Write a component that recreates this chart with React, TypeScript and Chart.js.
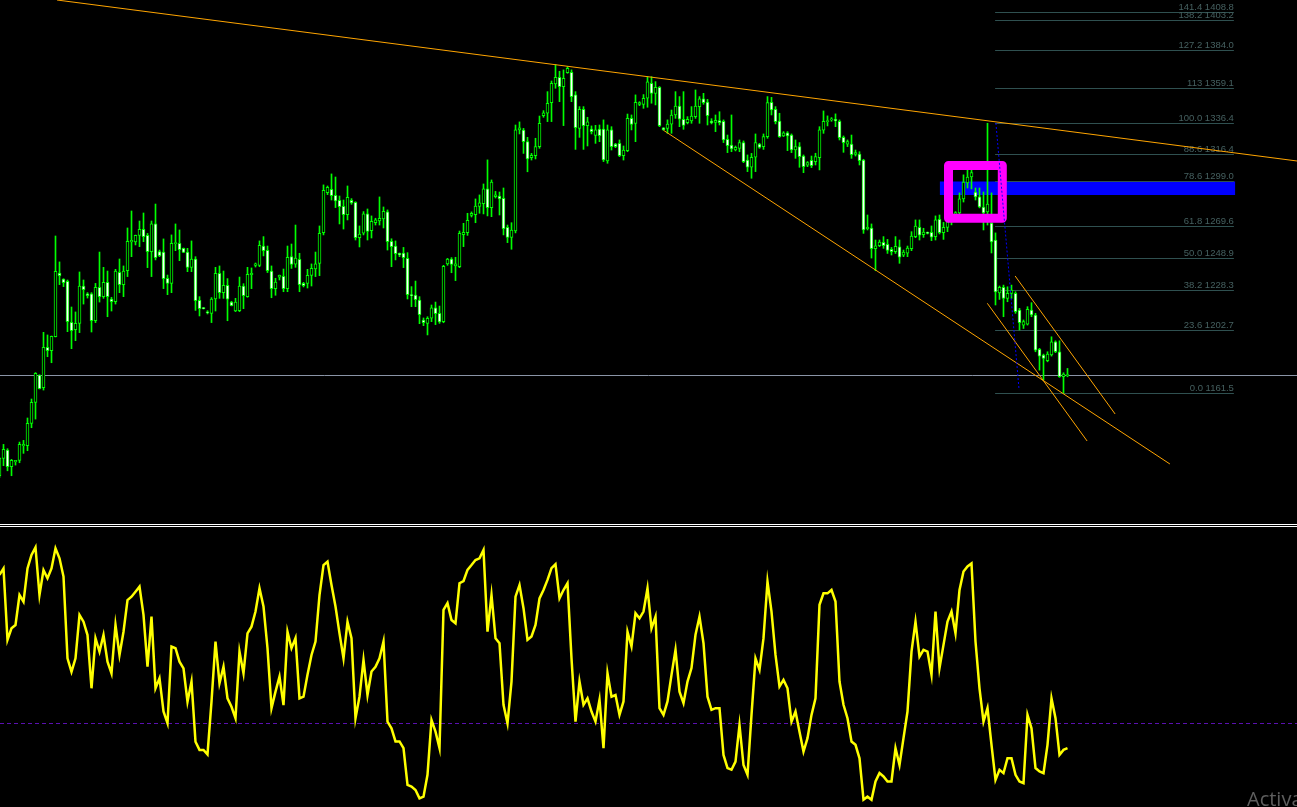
import React, { useEffect, useRef } from "react";
import { Chart, registerables } from "chart.js";

Chart.register(...registerables);

const W = 1297;
const H = 807;
const FIRST_BAR = -1;

// ---- candles (bar -1 .. 266) ----
const opens = [
  1108.1, 1119.3, 1124.7, 1113.9, 1117.2, 1118.0, 1127.5, 1127.5, 1142.0, 1155.6,
  1173.3, 1165.1, 1191.3, 1189.1, 1198.2, 1239.4, 1235.5, 1234.0, 1207.5, 1202.7,
  1206.8, 1231.0, 1226.0, 1226.0, 1208.5, 1230.1, 1224.1, 1233.4, 1222.6, 1220.9,
  1239.9, 1231.9, 1240.9, 1259.5, 1259.5, 1263.8, 1267.7, 1263.8, 1253.3, 1271.2,
  1253.3, 1253.0, 1236.0, 1232.7, 1258.4, 1258.7, 1255.4, 1253.0, 1243.1, 1248.5,
  1221.7, 1216.8, 1214.2, 1213.3, 1222.6, 1239.2, 1226.7, 1231.4, 1220.6, 1214.8,
  1215.0, 1231.0, 1224.1, 1238.4, 1244.4, 1244.4, 1256.9, 1254.1, 1240.7, 1229.3,
  1236.8, 1237.3, 1229.3, 1250.0, 1245.2, 1248.3, 1232.7, 1232.7, 1237.9, 1242.0,
  1245.7, 1265.6, 1291.5, 1293.6, 1289.7, 1286.5, 1282.6, 1277.2, 1286.5, 1285.2,
  1262.3, 1265.3, 1277.7, 1266.9, 1272.0, 1273.1, 1274.4, 1279.0, 1259.9, 1256.9,
  1252.2, 1252.4, 1248.9, 1225.4, 1225.2, 1221.9, 1209.0, 1206.8, 1210.1, 1216.8,
  1213.3, 1207.9, 1245.3, 1248.5, 1244.0, 1243.5, 1264.3, 1265.6, 1276.8, 1277.2,
  1282.6, 1284.4, 1293.9, 1281.8, 1288.9, 1289.3, 1287.8, 1269.0, 1262.5, 1266.7,
  1332.1, 1332.0, 1324.5, 1314.1, 1315.4, 1321.3, 1341.4, 1342.9, 1349.8, 1361.9,
  1366.2, 1360.2, 1369.2, 1369.4, 1354.8, 1333.1, 1345.5, 1334.9, 1332.7, 1328.6,
  1332.7, 1332.7, 1312.0, 1332.1, 1323.0, 1323.4, 1315.4, 1318.7, 1339.6, 1336.4,
  1348.7, 1348.7, 1352.6, 1362.3, 1355.8, 1359.7, 1333.4, 1333.1, 1335.9, 1341.8,
  1347.6, 1339.0, 1336.8, 1337.9, 1340.7, 1347.2, 1352.2, 1350.2, 1337.7, 1337.0,
  1338.1, 1337.7, 1326.0, 1322.3, 1319.1, 1320.2, 1323.9, 1312.6, 1307.9, 1314.4,
  1323.0, 1321.3, 1327.8, 1350.0, 1345.5, 1337.9, 1328.2, 1330.3, 1328.8, 1319.1,
  1321.3, 1315.2, 1309.2, 1312.4, 1311.6, 1314.2, 1331.9, 1337.5, 1338.6, 1339.0,
  1337.7, 1327.3, 1322.8, 1323.0, 1316.3, 1316.5, 1312.6, 1268.1, 1268.6, 1255.2,
  1257.1, 1259.3, 1258.0, 1254.8, 1253.2, 1256.3, 1250.9, 1252.2, 1255.2, 1263.0,
  1269.0, 1264.3, 1265.8, 1265.8, 1263.0, 1274.2, 1265.6, 1269.0, 1272.5, 1277.7,
  1278.3, 1287.4, 1297.8, 1301.6, 1291.9, 1288.7, 1282.2, 1279.0, 1271.8, 1260.8,
  1226.6, 1230.1, 1223.0, 1226.2, 1226.2, 1215.4, 1205.7, 1206.3, 1215.4, 1212.2,
  1189.9, 1186.3, 1182.6, 1186.3, 1194.9, 1188.4, 1172.2, 1172.9,
];

const highs = [
  1119.8, 1128.4, 1125.6, 1118.7, 1118.0, 1129.9, 1131.0, 1145.5, 1157.8, 1174.9,
  1173.5, 1201.0, 1199.3, 1198.6, 1263.4, 1246.6, 1235.7, 1234.9, 1217.4, 1214.2,
  1240.1, 1234.9, 1226.7, 1226.7, 1232.7, 1253.0, 1243.1, 1240.7, 1223.7, 1241.8,
  1248.5, 1244.0, 1268.6, 1279.6, 1264.0, 1273.1, 1278.3, 1265.1, 1273.1, 1284.1,
  1254.3, 1261.5, 1238.1, 1264.1, 1271.2, 1267.3, 1255.6, 1255.4, 1260.2, 1250.0,
  1224.1, 1217.0, 1215.0, 1223.5, 1243.1, 1244.0, 1240.7, 1235.8, 1221.1, 1223.0,
  1236.8, 1232.5, 1243.1, 1242.7, 1245.9, 1260.2, 1263.0, 1256.9, 1244.0, 1236.0,
  1238.1, 1242.0, 1256.9, 1258.2, 1270.5, 1252.2, 1233.4, 1241.8, 1245.3, 1253.0,
  1269.9, 1296.5, 1295.8, 1303.6, 1301.6, 1289.3, 1286.7, 1295.8, 1287.6, 1285.6,
  1269.9, 1279.2, 1280.9, 1276.4, 1274.9, 1288.7, 1282.2, 1280.3, 1261.6, 1260.2,
  1252.4, 1256.0, 1252.6, 1230.6, 1234.2, 1224.1, 1210.3, 1211.1, 1218.7, 1220.6,
  1218.0, 1244.4, 1248.9, 1249.4, 1249.6, 1266.6, 1271.6, 1278.1, 1279.0, 1287.4,
  1290.0, 1297.1, 1312.7, 1299.7, 1292.3, 1291.9, 1294.5, 1270.5, 1272.0, 1335.3,
  1337.3, 1333.1, 1327.3, 1316.9, 1326.7, 1341.1, 1344.6, 1356.9, 1363.8, 1374.4,
  1370.1, 1371.0, 1373.1, 1371.0, 1356.9, 1347.2, 1347.2, 1340.3, 1334.7, 1335.1,
  1335.3, 1338.6, 1335.3, 1334.2, 1323.4, 1325.6, 1321.7, 1342.4, 1341.8, 1354.8,
  1350.4, 1355.0, 1366.6, 1366.6, 1363.4, 1360.2, 1333.6, 1338.6, 1345.0, 1356.9,
  1353.7, 1356.9, 1340.7, 1347.2, 1358.0, 1353.7, 1355.8, 1351.9, 1339.4, 1341.8,
  1343.9, 1338.6, 1328.8, 1341.8, 1321.7, 1325.6, 1325.0, 1315.9, 1316.9, 1329.5,
  1323.4, 1329.5, 1353.7, 1353.2, 1347.2, 1342.9, 1331.0, 1331.0, 1329.5, 1325.6,
  1323.9, 1315.9, 1311.6, 1315.2, 1317.0, 1334.2, 1344.4, 1341.2, 1340.1, 1342.5,
  1338.6, 1328.2, 1325.6, 1328.8, 1319.1, 1318.0, 1313.1, 1277.0, 1271.2, 1260.8,
  1260.8, 1263.0, 1261.2, 1256.0, 1263.0, 1260.8, 1254.3, 1256.9, 1266.2, 1273.8,
  1273.8, 1268.4, 1266.0, 1269.9, 1276.4, 1277.0, 1272.2, 1274.2, 1280.5, 1279.2,
  1291.3, 1303.0, 1306.2, 1306.2, 1294.5, 1294.5, 1291.9, 1336.4, 1291.3, 1265.4,
  1231.0, 1231.6, 1230.5, 1231.6, 1227.3, 1216.5, 1209.0, 1217.6, 1220.2, 1213.3,
  1190.6, 1186.9, 1188.4, 1198.1, 1195.5, 1195.5, 1174.8, 1177.6,
];

const lows = [
  1107.0, 1114.6, 1111.3, 1108.1, 1115.0, 1116.5, 1122.6, 1124.3, 1139.2, 1144.8,
  1164.3, 1163.6, 1185.2, 1181.3, 1198.0, 1231.9, 1230.6, 1201.4, 1190.4, 1195.6,
  1200.8, 1219.3, 1223.2, 1201.2, 1207.3, 1220.6, 1223.0, 1211.1, 1214.8, 1219.3,
  1226.7, 1224.1, 1237.1, 1250.0, 1257.6, 1256.5, 1259.7, 1242.9, 1237.1, 1247.9,
  1250.0, 1229.3, 1225.4, 1226.7, 1253.9, 1247.4, 1252.6, 1240.3, 1240.3, 1215.2,
  1211.6, 1216.1, 1212.9, 1207.3, 1214.8, 1223.0, 1223.0, 1208.5, 1218.1, 1214.4,
  1214.4, 1216.3, 1223.7, 1229.3, 1243.3, 1243.5, 1250.5, 1239.7, 1223.4, 1225.0,
  1234.9, 1227.3, 1227.3, 1242.4, 1243.1, 1227.3, 1230.4, 1229.7, 1231.0, 1237.1,
  1237.7, 1264.1, 1290.2, 1286.7, 1281.8, 1271.2, 1267.9, 1273.8, 1283.9, 1260.8,
  1256.3, 1264.1, 1260.8, 1262.1, 1270.5, 1270.5, 1268.6, 1254.3, 1243.5, 1247.9,
  1250.0, 1242.9, 1222.6, 1217.6, 1217.6, 1206.6, 1205.3, 1199.3, 1207.9, 1206.0,
  1206.8, 1207.2, 1244.4, 1239.6, 1234.5, 1242.9, 1256.5, 1263.8, 1275.7, 1272.0,
  1278.1, 1277.7, 1276.4, 1275.9, 1288.0, 1277.0, 1264.1, 1259.1, 1254.8, 1265.4,
  1329.5, 1316.9, 1305.0, 1312.6, 1313.3, 1320.2, 1340.3, 1337.5, 1337.5, 1359.1,
  1350.4, 1334.9, 1368.8, 1350.4, 1319.5, 1327.3, 1319.5, 1321.7, 1329.5, 1323.4,
  1324.5, 1311.6, 1310.5, 1319.1, 1320.6, 1314.8, 1312.6, 1318.0, 1332.1, 1324.5,
  1347.8, 1346.1, 1346.8, 1349.4, 1348.3, 1334.2, 1331.9, 1329.9, 1329.9, 1339.6,
  1334.2, 1332.5, 1336.0, 1336.4, 1339.6, 1336.4, 1348.7, 1335.3, 1336.0, 1331.0,
  1335.3, 1323.9, 1317.4, 1318.0, 1318.5, 1318.0, 1310.9, 1305.1, 1300.8, 1305.1,
  1320.2, 1319.5, 1326.7, 1341.8, 1336.0, 1327.3, 1327.8, 1318.7, 1317.4, 1313.7,
  1307.9, 1304.4, 1308.3, 1307.7, 1309.4, 1306.2, 1329.9, 1334.7, 1337.7, 1334.2,
  1325.6, 1317.6, 1321.3, 1313.7, 1315.2, 1309.4, 1265.1, 1267.3, 1249.1, 1240.9,
  1256.5, 1255.4, 1252.1, 1251.1, 1252.1, 1245.7, 1250.0, 1250.0, 1253.9, 1262.3,
  1260.8, 1262.5, 1264.7, 1260.4, 1260.8, 1264.7, 1261.2, 1266.2, 1270.6, 1277.0,
  1277.0, 1285.4, 1294.5, 1293.9, 1286.7, 1281.6, 1267.3, 1270.5, 1252.4, 1218.7,
  1222.3, 1211.1, 1220.8, 1223.0, 1213.3, 1202.5, 1203.5, 1205.7, 1211.1, 1188.4,
  1176.5, 1170.1, 1181.9, 1185.6, 1187.8, 1171.8, 1161.5, 1172.2,
];

const closes = [
  1119.3, 1125.2, 1113.9, 1118.0, 1118.0, 1128.4, 1128.4, 1142.0, 1155.6, 1174.4,
  1164.5, 1191.3, 1189.1, 1198.4, 1240.5, 1237.7, 1233.2, 1207.9, 1202.1, 1206.8,
  1231.0, 1228.6, 1224.7, 1208.5, 1230.1, 1224.1, 1233.4, 1224.1, 1220.9, 1240.7,
  1231.9, 1240.7, 1260.0, 1260.6, 1263.8, 1267.7, 1263.0, 1253.3, 1271.2, 1249.4,
  1250.7, 1235.8, 1232.7, 1258.7, 1259.1, 1254.6, 1252.8, 1243.1, 1248.5, 1221.5,
  1216.3, 1216.3, 1213.7, 1222.6, 1239.2, 1226.7, 1231.4, 1222.4, 1218.3, 1220.6,
  1231.0, 1224.7, 1238.6, 1239.2, 1245.3, 1257.4, 1253.9, 1240.9, 1229.3, 1233.6,
  1237.9, 1229.3, 1249.6, 1245.0, 1249.1, 1231.9, 1231.2, 1237.9, 1242.4, 1245.3,
  1265.1, 1293.0, 1295.0, 1289.5, 1286.1, 1282.4, 1277.2, 1288.5, 1284.8, 1262.3,
  1264.7, 1277.7, 1266.4, 1272.9, 1273.8, 1274.9, 1279.4, 1259.7, 1256.5, 1252.0,
  1251.1, 1249.4, 1225.4, 1224.7, 1222.2, 1212.4, 1207.2, 1210.1, 1216.8, 1213.1,
  1207.7, 1243.7, 1248.5, 1245.0, 1245.3, 1265.1, 1265.8, 1273.6, 1278.1, 1282.8,
  1284.8, 1293.9, 1281.8, 1298.4, 1290.0, 1287.4, 1268.2, 1262.5, 1267.3, 1332.1,
  1333.4, 1324.5, 1313.3, 1315.7, 1321.3, 1336.4, 1343.1, 1349.4, 1362.3, 1366.2,
  1360.2, 1365.6, 1372.0, 1353.7, 1333.6, 1345.5, 1334.9, 1337.3, 1331.0, 1332.1,
  1328.4, 1312.6, 1332.1, 1321.3, 1321.3, 1315.4, 1319.1, 1339.6, 1335.7, 1350.0,
  1349.8, 1352.6, 1363.2, 1355.8, 1359.7, 1334.9, 1332.1, 1335.9, 1341.8, 1347.6,
  1339.0, 1335.1, 1339.0, 1341.1, 1347.6, 1352.2, 1349.8, 1341.4, 1336.8, 1338.3,
  1336.8, 1325.6, 1321.9, 1319.8, 1320.8, 1323.9, 1311.6, 1307.9, 1314.4, 1323.9,
  1320.8, 1327.8, 1349.8, 1345.0, 1337.5, 1327.8, 1330.3, 1328.2, 1319.1, 1321.3,
  1314.8, 1308.3, 1310.9, 1309.0, 1314.8, 1332.1, 1337.7, 1337.9, 1339.0, 1337.9,
  1327.1, 1323.9, 1324.5, 1316.1, 1317.4, 1312.2, 1267.3, 1269.0, 1255.2, 1257.1,
  1259.5, 1257.1, 1254.1, 1253.2, 1256.7, 1249.6, 1253.0, 1255.6, 1263.4, 1269.9,
  1264.0, 1266.0, 1265.1, 1262.7, 1273.8, 1265.6, 1269.0, 1272.5, 1278.0, 1278.5,
  1287.4, 1298.4, 1301.6, 1304.4, 1288.7, 1282.2, 1278.3, 1284.0, 1259.5, 1227.1,
  1230.1, 1223.0, 1226.2, 1228.4, 1214.3, 1207.2, 1207.9, 1215.9, 1212.2, 1189.5,
  1185.6, 1184.1, 1186.9, 1194.9, 1188.4, 1172.2, 1173.9, 1173.6,
];

// ---- oscillator (bar -1 .. 266) ----
const oscillator = [
  82.9, 85.2, 59.7, 63.8, 65.0, 75.7, 73.3, 85.2, 90.0, 92.7,
  75.7, 84.6, 81.7, 85.2, 92.4, 88.8, 82.3, 53.1, 48.3, 53.1,
  68.6, 66.2, 61.4, 42.4, 60.3, 55.5, 61.4, 51.9, 47.7, 65.0,
  54.3, 62.6, 73.9, 75.1, 76.9, 78.7, 68.6, 50.1, 68.0, 42.4,
  46.0, 34.1, 29.9, 57.3, 56.7, 51.9, 49.5, 37.6, 44.8, 23.3,
  20.4, 20.4, 18.8, 37.6, 59.1, 44.2, 50.1, 38.8, 35.8, 31.7,
  55.5, 47.7, 62.0, 64.4, 69.8, 78.1, 71.6, 56.7, 35.3, 41.2,
  46.6, 36.4, 62.6, 56.7, 60.3, 38.8, 39.4, 47.2, 54.3, 59.1,
  75.7, 86.4, 87.6, 79.3, 71.6, 62.0, 53.1, 66.2, 60.3, 31.7,
  39.4, 52.5, 40.0, 48.4, 50.1, 53.1, 59.1, 30.5, 28.1, 23.4,
  23.4, 21.0, 7.9, 7.3, 6.1, 3.1, 3.7, 11.5, 31.1, 26.9,
  21.0, 70.4, 72.8, 66.8, 65.6, 79.9, 80.7, 84.7, 86.4, 88.2,
  88.8, 91.8, 62.6, 75.7, 60.3, 58.5, 36.5, 29.9, 44.8, 75.1,
  79.3, 71.0, 59.7, 60.9, 65.0, 74.5, 77.5, 81.1, 85.3, 86.7,
  74.5, 77.5, 79.9, 53.1, 30.5, 44.8, 36.5, 38.8, 34.1, 30.5,
  38.3, 21.0, 47.8, 39.4, 40.0, 32.9, 37.7, 62.6, 57.3, 69.2,
  67.4, 69.8, 78.1, 63.8, 68.0, 35.3, 32.9, 37.7, 47.2, 56.1,
  41.2, 37.1, 44.8, 49.6, 61.5, 68.0, 58.5, 39.4, 34.7, 35.3,
  35.3, 18.6, 13.9, 13.3, 16.2, 29.3, 15.0, 11.5, 32.9, 53.1,
  49.0, 60.3, 80.5, 69.8, 54.3, 43.0, 45.4, 42.4, 30.5, 34.1,
  26.9, 19.8, 24.6, 32.9, 38.8, 72.2, 76.3, 76.3, 77.5, 73.4,
  44.8, 36.5, 31.7, 23.4, 22.2, 17.4, 2.6, 3.7, 2.6, 9.1,
  12.1, 10.9, 9.1, 9.1, 21.0, 15.0, 24.6, 34.1, 55.5, 66.2,
  53.7, 56.1, 55.5, 47.2, 69.8, 49.6, 57.9, 66.2, 69.8, 62.0,
  77.5, 84.1, 85.9, 87.0, 59.1, 42.4, 30.5, 35.3, 22.2, 9.7,
  13.3, 12.1, 17.4, 17.4, 11.5, 9.1, 8.5, 32.9, 28.1, 13.9,
  12.7, 12.1, 22.2, 38.8, 31.7, 18.6, 20.4, 21.0,
];
const oscLevel = 30;

// ---- Fibonacci retracement ----
const fibRatios = ["141.4", "138.2", "127.2", "113", "100.0", "88.6", "78.6", "61.8", "50.0", "38.2", "23.6", "0.0"];
const fibPrices = [1408.8, 1403.2, 1384.0, 1359.1, 1336.4, 1316.4, 1299.0, 1269.6, 1248.9, 1228.3, 1202.7, 1161.5];
const fibBarRange = [247.9, 307.6];

// ---- drawn objects (bar index, price) ----
const trendFrom = [[13.375, 1416.27], [165, 1331.87], [245.95, 1219.8], [252.9, 1237.5]];
const trendTo = [[323.375, 1311.98], [291.6, 1115.7], [270.9, 1130.6], [277.9, 1148.1]];
const fibDiagonal = [[248.1, 1336.6], [253.9, 1163.6]];
const zoneBars = [234.1, 307.9];
const zonePrices = [1298.7, 1289.95];
const boxBars = [236.25, 249.7];
const boxPrices = [1309.06, 1274.9];
const bidPrice = 1173.6;

// axis ranges
const priceMin = 893.51;
const priceMax = 1416.27;
const oscMin = 0;
const oscMax = 288.21;
const barMin = -0.875;
const barMax = 323.375;

const overlayPlugin = {
  id: "mt4overlay",
  beforeDraw(chart: any) {
    const ctx = chart.ctx;
    ctx.save();
    ctx.fillStyle = "#000000";
    ctx.fillRect(0, 0, chart.width, chart.height);
    ctx.restore();
  },
  beforeDatasetsDraw(chart: any) {
    const ctx = chart.ctx;
    const x = chart.scales.x;
    const y = chart.scales.y;
    const y2 = chart.scales.y2;
    ctx.save();
    // blue zone
    ctx.fillStyle = "#0000ff";
    const zx0 = x.getPixelForValue(zoneBars[0]);
    const zx1 = x.getPixelForValue(zoneBars[1]);
    const zy0 = y.getPixelForValue(zonePrices[0]);
    const zy1 = y.getPixelForValue(zonePrices[1]);
    ctx.fillRect(zx0, zy0, zx1 - zx0, zy1 - zy0);
    // fib lines
    ctx.strokeStyle = "#2f5050";
    ctx.lineWidth = 1;
    const fx0 = x.getPixelForValue(fibBarRange[0]);
    const fx1 = x.getPixelForValue(fibBarRange[1]);
    fibPrices.forEach((p) => {
      const py = Math.round(y.getPixelForValue(p)) + 0.5;
      ctx.beginPath();
      ctx.moveTo(fx0, py);
      ctx.lineTo(fx1, py);
      ctx.stroke();
    });
    // bid line
    ctx.strokeStyle = "#8a94a6";
    const by = Math.round(y.getPixelForValue(bidPrice)) + 0.5;
    ctx.beginPath();
    ctx.moveTo(0, by);
    ctx.lineTo(chart.width, by);
    ctx.stroke();
    // oscillator level
    ctx.strokeStyle = "#5a10b0";
    ctx.setLineDash([4, 3]);
    const ly = Math.round(y2.getPixelForValue(oscLevel)) + 0.5;
    ctx.beginPath();
    ctx.moveTo(0, ly);
    ctx.lineTo(chart.width, ly);
    ctx.stroke();
    ctx.restore();
  },
  afterDatasetsDraw(chart: any) {
    const ctx = chart.ctx;
    const x = chart.scales.x;
    const y = chart.scales.y;
    ctx.save();
    // fib labels
    ctx.fillStyle = "#456060";
    ctx.font = "9.5px 'Liberation Sans', Arial, sans-serif";
    ctx.textAlign = "right";
    ctx.textBaseline = "alphabetic";
    const fx1 = x.getPixelForValue(fibBarRange[1]);
    fibPrices.forEach((p, k) => {
      const py = Math.round(y.getPixelForValue(p)) + 0.5;
      ctx.fillText(fibRatios[k] + " " + p.toFixed(1), fx1, py - 2.5);
    });
    // magenta box
    ctx.strokeStyle = "#ff00ff";
    ctx.lineWidth = 9;
    ctx.lineJoin = "round";
    const bx0 = x.getPixelForValue(boxBars[0]);
    const bx1 = x.getPixelForValue(boxBars[1]);
    const by0 = y.getPixelForValue(boxPrices[0]);
    const by1 = y.getPixelForValue(boxPrices[1]);
    ctx.strokeRect(bx0, by0, bx1 - bx0, by1 - by0);
    // trend lines
    ctx.lineJoin = "miter";
    ctx.strokeStyle = "#ffa500";
    ctx.lineWidth = 1;
    trendFrom.forEach((a, k) => {
      const b = trendTo[k];
      ctx.beginPath();
      ctx.moveTo(x.getPixelForValue(a[0]), y.getPixelForValue(a[1]));
      ctx.lineTo(x.getPixelForValue(b[0]), y.getPixelForValue(b[1]));
      ctx.stroke();
    });
    // fib diagonal (dotted)
    ctx.strokeStyle = "#0000ff";
    ctx.setLineDash([2, 2]);
    ctx.beginPath();
    ctx.moveTo(x.getPixelForValue(fibDiagonal[0][0]), y.getPixelForValue(fibDiagonal[0][1]));
    ctx.lineTo(x.getPixelForValue(fibDiagonal[1][0]), y.getPixelForValue(fibDiagonal[1][1]));
    ctx.stroke();
    ctx.setLineDash([]);
    // pane separator
    ctx.fillStyle = "#ffffff";
    ctx.fillRect(0, 524, chart.width, 1);
    ctx.fillRect(0, 526, chart.width, 1);
    // watermark
    ctx.fillStyle = "#5e5e5e";
    ctx.font = "20px 'Open Sans', 'Noto Sans', sans-serif";
    ctx.textAlign = "left";
    ctx.fillText("Activate Windows", 1247, 806);
    ctx.restore();
  },
};

export default function App() {
  const canvasRef = useRef<HTMLCanvasElement | null>(null);

  useEffect(() => {
    document.body.style.margin = "0";
    document.body.style.background = "#000";
    const canvas = canvasRef.current;
    if (!canvas) return;
    const barX = (k: number) => k + FIRST_BAR;
    const chart = new Chart(canvas, {
      type: "bar",
      data: {
        datasets: [
          {
            type: "bar",
            label: "body",
            data: opens.map((o, k) => ({ x: barX(k), y: [o, closes[k]] })) as any,
            backgroundColor: opens.map((o, k) => (closes[k] >= o ? "#000000" : "#ffffff")),
            borderColor: "#00ff00",
            borderWidth: 1,
            borderSkipped: false,
            barThickness: 3,
            grouped: false,
            minBarLength: 1,
            yAxisID: "y",
            order: 0,
          } as any,
          {
            type: "bar",
            label: "wick",
            data: lows.map((l, k) => ({ x: barX(k), y: [l, highs[k]] })) as any,
            backgroundColor: "#00ff00",
            borderWidth: 0,
            barThickness: 1,
            grouped: false,
            yAxisID: "y",
            order: 1,
          } as any,
          {
            type: "line",
            label: "oscillator",
            data: oscillator.map((v, k) => ({ x: barX(k), y: v })) as any,
            borderColor: "#ffff00",
            borderWidth: 2.5,
            pointRadius: 0,
            tension: 0,
            yAxisID: "y2",
            order: 2,
          } as any,
        ],
      },
      options: {
        animation: false,
        responsive: false,
        devicePixelRatio: 1,
        events: [],
        layout: { padding: 0 },
        plugins: { legend: { display: false }, tooltip: { enabled: false } },
        scales: {
          x: { type: "linear", min: barMin, max: barMax, offset: false, display: false, bounds: "data" },
          y: { type: "linear", min: priceMin, max: priceMax, display: false, beginAtZero: false, bounds: "data" },
          y2: { type: "linear", min: oscMin, max: oscMax, display: false, beginAtZero: false, bounds: "data" },
        },
      } as any,
      plugins: [overlayPlugin],
    });
    return () => chart.destroy();
  }, []);

  return (
    <div style={{ position: "fixed", left: 0, top: 0, width: W, height: H, background: "#000", overflow: "hidden" }}>
      <canvas ref={canvasRef} width={W} height={H} style={{ display: "block" }} />
    </div>
  );
}
